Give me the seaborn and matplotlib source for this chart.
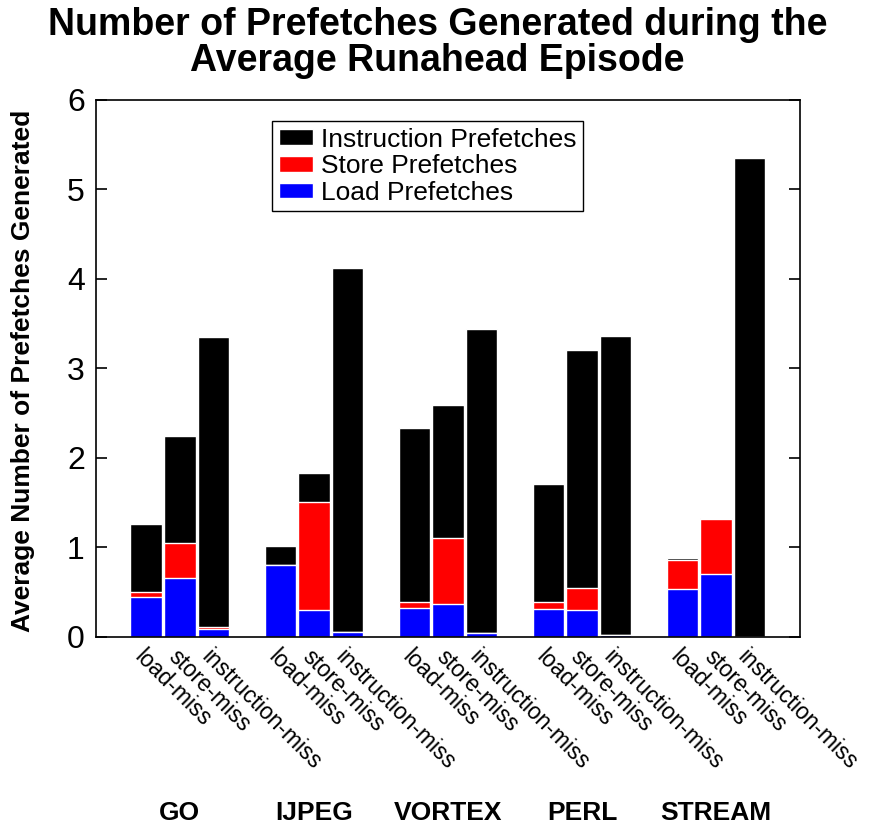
import matplotlib
matplotlib.use("Agg")
import matplotlib.pyplot as plt
import matplotlib.transforms as mtransforms
import seaborn as sns
import pandas as pd

benchmarks = ["GO", "IJPEG", "VORTEX", "PERL", "STREAM"]
miss_types = ["load-miss", "store-miss", "instruction-miss"]

# one value per bar: benchmark x miss type, in order
load_prefetches = [0.45, 0.66, 0.085, 0.80, 0.30, 0.05, 0.32, 0.365, 0.04,
                   0.31, 0.30, 0.026, 0.54, 0.70, 0.0]
store_prefetches = [0.057, 0.39, 0.027, 0.0, 1.206, 0.0, 0.075, 0.739, 0.0,
                    0.085, 0.251, 0.0, 0.317, 0.614, 0.0]
instruction_prefetches = [0.76, 1.20, 3.24, 0.22, 0.33, 4.07, 1.94, 1.49, 3.40,
                          1.31, 2.66, 3.34, 0.03, 0.02, 5.35]


def main():
    sns.set_style("ticks")
    plt.rcParams["font.family"] = ["Liberation Sans", "DejaVu Sans"]
    plt.rcParams["text.color"] = "black"
    plt.rcParams["xtick.color"] = "black"
    plt.rcParams["ytick.color"] = "black"
    plt.rcParams["axes.edgecolor"] = "black"

    rows = []
    for g, bench in enumerate(benchmarks):
        for k, miss in enumerate(miss_types):
            i = g * len(miss_types) + k
            rows.append({
                "benchmark": bench,
                "miss": miss,
                "pos": 4 * g + k + 1.5,
                "load": load_prefetches[i],
                "store": store_prefetches[i],
                "instruction": instruction_prefetches[i],
            })
    df = pd.DataFrame(rows)
    df["load_top"] = df["load"]
    df["store_top"] = df["load"] + df["store"]
    df["total"] = df["store_top"] + df["instruction"]

    fig, ax = plt.subplots(figsize=(8.7, 8.31), dpi=100)
    fig.subplots_adjust(left=0.1103, right=0.9195, bottom=0.2335, top=0.8797)

    layers = [
        ("total", "black", "Instruction Prefetches"),
        ("store_top", "red", "Store Prefetches"),
        ("load_top", "blue", "Load Prefetches"),
    ]
    for col, color, label in layers:
        sns.barplot(data=df, x="pos", y=col, color=color, native_scale=True,
                    width=0.94, saturation=1, edgecolor="white", linewidth=1,
                    label=label, errorbar=None, ax=ax)

    ax.set_xlim(0, 21)
    ax.set_ylim(0, 6)
    ax.set_yticks(range(7))
    ax.set_xticks(df["pos"])
    ax.set_xticklabels(df["miss"], rotation=-45, ha="left", va="top",
                       rotation_mode="anchor", fontsize=16.5)
    ax.set_xlabel("")
    ax.set_ylabel("")
    ax.tick_params(axis="x", length=0, pad=6)
    ax.tick_params(axis="y", direction="in", length=8, width=1.2, right=True,
                   labelsize=23, pad=8)
    for s in ax.spines.values():
        s.set_visible(True)
        s.set_color("black")
        s.set_linewidth(1.2)

    ax.legend(loc="upper left", bbox_to_anchor=(0.3126, 0.8544),
              bbox_transform=fig.transFigure, borderaxespad=0, fontsize=19,
              frameon=True, fancybox=False, edgecolor="black", framealpha=1,
              labelspacing=0.1, handlelength=1.3, handleheight=0.55,
              handletextpad=0.3, borderpad=0.25)
    ax.get_legend().get_frame().set_linewidth(1)

    fig.text(0.503, 0.992, "Number of Prefetches Generated during the\nAverage Runahead Episode",
             ha="center", va="top", fontsize=27, fontweight="bold", linespacing=1.0)
    fig.text(0.0264, 0.5535, "Average Number of Prefetches Generated",
             rotation=90, ha="center", va="center", fontsize=19, fontweight="bold")

    trans = mtransforms.blended_transform_factory(ax.transData, fig.transFigure)
    for g, bench in enumerate(benchmarks):
        ax.text(4 * g + 2.5, 0.0217, bench, transform=trans, ha="center",
                va="center", fontsize=19, fontweight="bold")

    fig.savefig("out.png", dpi=100)


if __name__ == "__main__":
    main()
